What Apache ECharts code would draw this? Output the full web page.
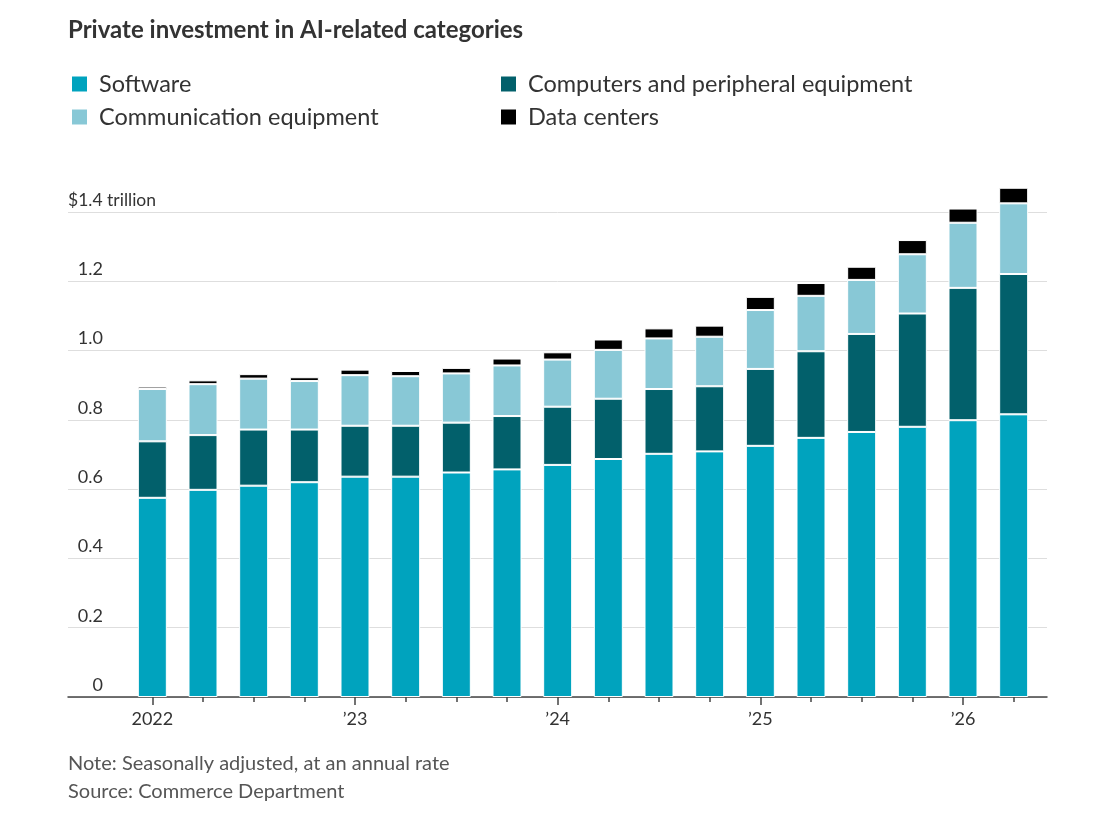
<!DOCTYPE html>
<html>
<head>
<meta charset="utf-8">
<script src="https://cdn.jsdelivr.net/npm/echarts@6.0.0/dist/echarts.min.js"></script>
<style>
  html, body { margin: 0; padding: 0; background: #fff; }
  #chart { width: 1096px; height: 834px; }
</style>
</head>
<body>
<div id="chart"></div>
<script>
// quarterly, 2022 Q1 .. 2026 Q2 ($ trillion, annual rate)
var categories = ['2022 Q1', '2022 Q2', '2022 Q3', '2022 Q4',
                  '2023 Q1', '2023 Q2', '2023 Q3', '2023 Q4',
                  '2024 Q1', '2024 Q2', '2024 Q3', '2024 Q4',
                  '2025 Q1', '2025 Q2', '2025 Q3', '2025 Q4',
                  '2026 Q1', '2026 Q2'];
var yearLabels = ['2022', '\u201923', '\u201924', '\u201925', '\u201926'];
var yTickLabels = ['0', '0.2', '0.4', '0.6', '0.8', '1.0', '1.2', '$1.4 trillion'];

var software      = [0.575, 0.598, 0.610, 0.620, 0.636, 0.636, 0.648, 0.657, 0.670,
                     0.687, 0.702, 0.709, 0.725, 0.748, 0.765, 0.780, 0.799, 0.816];
var computers     = [0.163, 0.158, 0.162, 0.152, 0.147, 0.147, 0.144, 0.154, 0.168,
                     0.174, 0.187, 0.188, 0.222, 0.250, 0.283, 0.327, 0.382, 0.405];
var communication = [0.151, 0.147, 0.147, 0.140, 0.146, 0.143, 0.142, 0.146, 0.136,
                     0.141, 0.146, 0.143, 0.170, 0.160, 0.156, 0.171, 0.188, 0.204];
var dataCenters   = [0.007, 0.011, 0.013, 0.011, 0.016, 0.015, 0.016, 0.020, 0.021,
                     0.030, 0.029, 0.032, 0.038, 0.037, 0.038, 0.041, 0.041, 0.045];

var FONT = 'Lato';
var chart = echarts.init(document.getElementById('chart'));

function bar(name, data, color) {
    return {
        name: name,
        type: 'bar',
        stack: 'total',
        xAxisIndex: 1,
        yAxisIndex: 1,
        barWidth: 29,
        clip: false,
        itemStyle: { color: color, borderColor: '#fff', borderWidth: 1 },
        data: data
    };
}

var legendText = { fontFamily: FONT, fontSize: 23.5, color: '#333', padding: [0, 0, 0, 6] };

var option = {
    animation: false,
    textStyle: { fontFamily: FONT },
    title: {
        text: 'Private investment in AI-related categories',
        left: 68,
        top: 18,
        padding: 0,
        textStyle: { fontFamily: FONT, fontSize: 24, fontWeight: 'bold', color: '#333' }
    },
    legend: [
        {
            orient: 'vertical', left: 70, top: 72, padding: 0,
            itemWidth: 17, itemHeight: 17, itemGap: 9, icon: 'rect',
            selectedMode: false,
            data: ['Software', 'Communication equipment'],
            textStyle: legendText
        },
        {
            orient: 'vertical', left: 499, top: 72, padding: 0,
            itemWidth: 17, itemHeight: 17, itemGap: 9, icon: 'rect',
            selectedMode: false,
            data: ['Computers and peripheral equipment', 'Data centers'],
            textStyle: legendText
        }
    ],
    grid: [
        // wide grid: gridlines, y labels, baseline
        { left: 68, right: 49, top: 212, bottom: 137 },
        // bars
        { left: 127, right: 57, top: 212, bottom: 137 }
    ],
    xAxis: [
        {
            type: 'category', gridIndex: 0, data: categories,
            axisLine: { lineStyle: { color: '#444', width: 1.5 } },
            axisTick: { show: false },
            axisLabel: { show: false }
        },
        {
            type: 'category', gridIndex: 1, data: categories,
            axisLine: { show: false },
            axisTick: { show: true, alignWithLabel: true, interval: 0, length: 5,
                        lineStyle: { color: '#444', width: 1.5 } },
            axisLabel: {
                interval: function (i) { return i % 4 === 0; },
                formatter: function (v, i) { return yearLabels[i / 4] || ''; },
                margin: 13,
                fontFamily: FONT, fontSize: 18, color: '#333'
            }
        },
        {
            // longer ticks at the start of each year
            type: 'category', gridIndex: 1, data: categories, position: 'bottom',
            axisLine: { show: false },
            axisTick: { show: true, alignWithLabel: true, length: 8,
                        interval: function (i) { return i % 4 === 0; },
                        lineStyle: { color: '#444', width: 1.5 } },
            axisLabel: { show: false }
        }
    ],
    yAxis: [
        {
            type: 'value', gridIndex: 0, min: 0, max: 1.4, interval: 0.2,
            axisLine: { show: false },
            axisTick: { show: false },
            splitLine: { lineStyle: { color: '#dedede', width: 1 } },
            axisLabel: {
                inside: true,
                margin: 0,
                align: 'left',
                verticalAlign: 'bottom',
                padding: [0, 0, 3, 0],
                formatter: function (v) {
                    var s = yTickLabels[Math.round(v / 0.2)];
                    return v > 1.3 ? '{t|' + s + '}' : '{n|' + s + '}';
                },
                rich: {
                    n: { width: 35, align: 'right', fontFamily: FONT, fontSize: 18, color: '#333' },
                    t: { fontFamily: FONT, fontSize: 17.5, color: '#333' }
                }
            },
            z: 0
        },
        {
            type: 'value', gridIndex: 1, min: 0, max: 1.4, interval: 0.2,
            show: false
        }
    ],
    series: [
        bar('Software', software, '#00a3be'),
        bar('Computers and peripheral equipment', computers, '#02606b'),
        bar('Communication equipment', communication, '#88c8d6'),
        bar('Data centers', dataCenters, '#000000')
    ],
    graphic: [
        {
            type: 'text', left: 68, top: 754,
            style: { text: 'Note: Seasonally adjusted, at an annual rate',
                     fontFamily: FONT, fontSize: 20, fill: '#555' }
        },
        {
            type: 'text', left: 68, top: 782,
            style: { text: 'Source: Commerce Department',
                     fontFamily: FONT, fontSize: 20, fill: '#555' }
        }
    ]
};

chart.setOption(option);
</script>
</body>
</html>
